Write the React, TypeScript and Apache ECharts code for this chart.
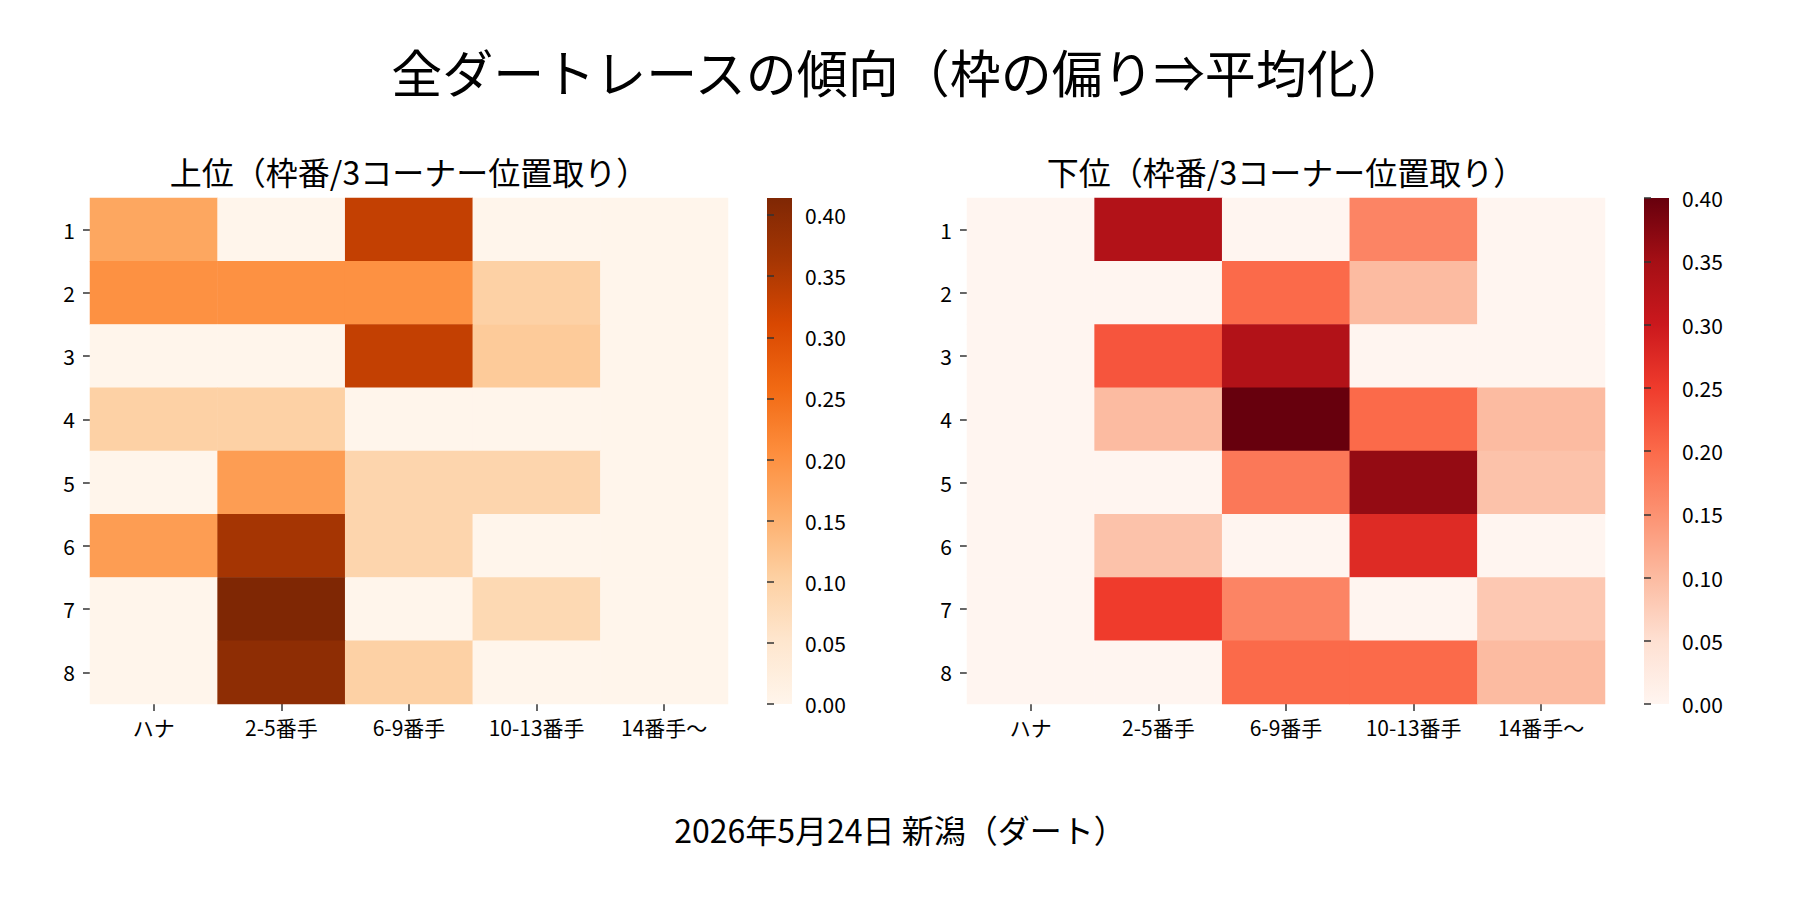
import React, { useEffect, useRef } from "react";
import * as echarts from "echarts";

const FONT = "'Noto Sans CJK JP', 'Noto Sans', sans-serif";

const mainTitle = "全ダートレースの傾向（枠の偏り⇒平均化）";
const leftTitle = "上位（枠番/3コーナー位置取り）";
const rightTitle = "下位（枠番/3コーナー位置取り）";
const footer = "2026年5月24日 新潟（ダート）";

// 枠番 (rows) and 3コーナー位置取り (columns)
const frames = ["1", "2", "3", "4", "5", "6", "7", "8"];
const positions = ["ハナ", "2-5番手", "6-9番手", "10-13番手", "14番手～"];

// 上位: share per frame / position
const upperRates = [
    [0.167, 0, 0.333, 0, 0],
    [0.2, 0.2, 0.2, 0.1, 0],
    [0, 0, 0.333, 0.111, 0],
    [0.1, 0.1, 0, 0, 0],
    [0, 0.182, 0.091, 0.091, 0],
    [0.182, 0.364, 0.091, 0, 0],
    [0, 0.414, 0, 0.083, 0],
    [0, 0.394, 0.1, 0, 0],
];

// 下位
const lowerRates = [
    [0, 0.333, 0, 0.167, 0],
    [0, 0, 0.2, 0.1, 0],
    [0, 0.222, 0.333, 0, 0],
    [0, 0.1, 0.4, 0.2, 0.1],
    [0, 0, 0.182, 0.364, 0.091],
    [0, 0.091, 0, 0.273, 0],
    [0, 0.25, 0.167, 0, 0.083],
    [0, 0, 0.2, 0.2, 0.1],
];

// matplotlib colormaps
const oranges = ["#fff5eb", "#fee6ce", "#fdd0a2", "#fdae6b", "#fd8d3c", "#f16913", "#d94801", "#a63603", "#7f2704"];
const reds = ["#fff5f0", "#fee0d2", "#fcbba1", "#fc9272", "#fb6a4a", "#ef3b2c", "#cb181d", "#a50f15", "#67000d"];

const toCells = (rows: number[][]) => {
    const out: number[][] = [];
    rows.forEach((r, y) => r.forEach((v, x) => out.push([x, y, v])));
    return out;
};

const maxOf = (rows: number[][]) => Math.max(...rows.map((r) => Math.max(...r)));

const App = () => {
    const chartRef = useRef(null);

    useEffect(() => {
        document.body.style.margin = "0";
        if (!chartRef.current) return;
        const chart = echarts.init(chartRef.current, null, { renderer: "svg" });

        const top = 198;
        const h = 506;
        const panels = [
            { left: 90, barLeft: 767, title: leftTitle, rows: upperRates, cmap: oranges },
            { left: 967, barLeft: 1644, title: rightTitle, rows: lowerRates, cmap: reds },
        ];

        const grids: any[] = [];
        const xAxes: any[] = [];
        const yAxes: any[] = [];
        const series: any[] = [];
        const visualMaps: any[] = [];
        const graphics: any[] = [];

        const tickStyle = { show: true, length: 7, lineStyle: { color: "#333", width: 1.5 } };
        const labelStyle = { fontSize: 21, color: "#000", fontFamily: FONT };

        panels.forEach((p, i) => {
            const max = maxOf(p.rows);
            // heatmap grid
            grids.push({ left: p.left, top, width: 638, height: h });
            xAxes.push({
                type: "category",
                gridIndex: i * 2,
                data: positions,
                axisLine: { show: false },
                axisTick: { ...tickStyle, alignWithLabel: true },
                axisLabel: { ...labelStyle, margin: 12 },
                splitLine: { show: false },
            });
            yAxes.push({
                type: "category",
                gridIndex: i * 2,
                data: frames,
                inverse: true,
                axisLine: { show: false },
                axisTick: { ...tickStyle, alignWithLabel: true },
                axisLabel: { ...labelStyle, margin: 15 },
                splitLine: { show: false },
            });
            series.push({
                type: "heatmap",
                xAxisIndex: i * 2,
                yAxisIndex: i * 2,
                data: toCells(p.rows),
                itemStyle: { borderWidth: 0 },
                emphasis: { disabled: true },
            });
            visualMaps.push({
                type: "continuous",
                show: false,
                seriesIndex: i * 2,
                dimension: 2,
                min: 0,
                max,
                inRange: { color: p.cmap },
            });

            // colorbar grid
            grids.push({ left: p.barLeft, top, width: 25, height: h });
            xAxes.push({ type: "value", gridIndex: i * 2 + 1, show: false, min: 0, max: 1 });
            yAxes.push({
                type: "value",
                gridIndex: i * 2 + 1,
                position: "right",
                min: 0,
                max,
                interval: 0.05,
                axisLine: { show: false },
                axisTick: tickStyle,
                axisLabel: {
                    ...labelStyle,
                    margin: 13,
                    formatter: (v: number) => v.toFixed(2),
                },
                splitLine: { show: false },
            });
            series.push({
                type: "line",
                xAxisIndex: i * 2 + 1,
                yAxisIndex: i * 2 + 1,
                data: [],
                silent: true,
            });
            graphics.push({
                type: "rect",
                shape: { x: p.barLeft, y: top, width: 25, height: h },
                style: {
                    fill: new echarts.graphic.LinearGradient(
                        0, 1, 0, 0,
                        p.cmap.map((c, k) => ({ offset: k / (p.cmap.length - 1), color: c }))
                    ),
                },
                silent: true,
            });
            graphics.push({
                type: "text",
                x: p.left + 319,
                y: 171,
                style: {
                    text: p.title,
                    fontSize: 32,
                    fontFamily: FONT,
                    fill: "#000",
                    align: "center",
                    verticalAlign: "middle",
                },
            });
        });

        graphics.push({
            type: "text",
            x: 900,
            y: 71,
            style: { text: mainTitle, fontSize: 51, fontFamily: FONT, fill: "#000", align: "center", verticalAlign: "middle" },
        });
        graphics.push({
            type: "text",
            x: 900,
            y: 829,
            style: { text: footer, fontSize: 32, fontFamily: FONT, fill: "#000", align: "center", verticalAlign: "middle" },
        });

        const option = {
            animation: false,
            backgroundColor: "#fff",
            grid: grids,
            xAxis: xAxes,
            yAxis: yAxes,
            visualMap: visualMaps,
            series,
            graphic: graphics,
        };

        chart.setOption(option);
        return () => chart.dispose();
    }, []);

    return <div ref={chartRef} style={{ width: "1800px", height: "900px" }} />;
};

export default App;
